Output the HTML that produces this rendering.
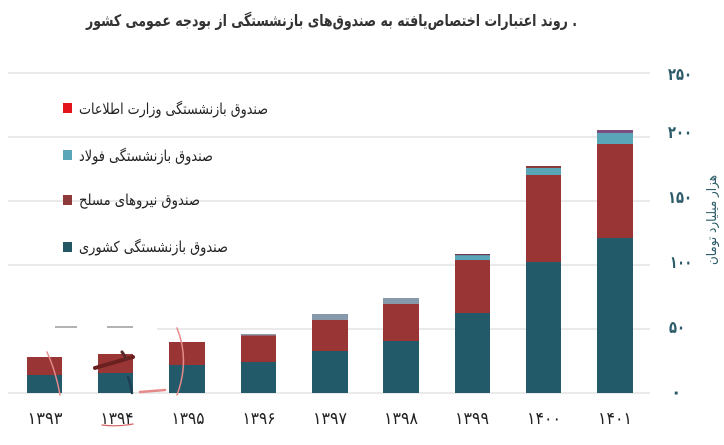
<!DOCTYPE html>
<html><head><meta charset="utf-8"><style>html,body{margin:0;padding:0;background:#fff;width:724px;height:445px;overflow:hidden}svg{display:block}</style></head><body>
<svg width="724" height="445" viewBox="0 0 724 445" xmlns="http://www.w3.org/2000/svg" font-family="'DejaVu Sans', sans-serif">
<rect width="724" height="445" fill="#fff"/>
<!-- gridlines -->
<g stroke="#e3e3e3" stroke-width="1.5">
<line x1="8" y1="73" x2="650" y2="73"/>
<line x1="8" y1="137" x2="650" y2="137"/>
<line x1="8" y1="201" x2="650" y2="201"/>
<line x1="8" y1="265" x2="650" y2="265"/>
<line x1="157" y1="329" x2="650" y2="329"/>
<line x1="8" y1="393" x2="650" y2="393"/>
</g>
<g stroke="#9a9a9a" stroke-width="1.5">
<line x1="55" y1="327" x2="77" y2="327"/>
<line x1="107" y1="327" x2="133" y2="327"/>
</g>
<!-- title -->
<text x="331.5" y="26" font-size="16" font-weight="bold" fill="#333" text-anchor="middle" style="direction:rtl;unicode-bidi:embed" textLength="491" lengthAdjust="spacingAndGlyphs">. روند اعتبارات اختصاص‌یافته به صندوق‌های بازنشستگی از بودجه عمومی کشور</text>
<!-- legend -->
<rect x="63" y="103" width="9" height="10" fill="#e3141b"/>
<text x="173.5" y="114" font-size="15" fill="#222" text-anchor="middle" style="direction:rtl;unicode-bidi:embed" textLength="189" lengthAdjust="spacingAndGlyphs">صندوق بازنشستگی وزارت اطلاعات</text>
<rect x="63" y="150" width="9" height="10" fill="#5aa6b9"/>
<text x="146" y="161" font-size="15" fill="#222" text-anchor="middle" style="direction:rtl;unicode-bidi:embed" textLength="134" lengthAdjust="spacingAndGlyphs">صندوق بازنشستگی فولاد</text>
<rect x="63" y="195" width="9" height="10" fill="#8e3a3a"/>
<text x="139.5" y="205" font-size="15" fill="#222" text-anchor="middle" style="direction:rtl;unicode-bidi:embed" textLength="121" lengthAdjust="spacingAndGlyphs">صندوق نیروهای مسلح</text>
<rect x="63" y="242" width="9" height="10" fill="#245764"/>
<text x="153.5" y="252" font-size="15" fill="#222" text-anchor="middle" style="direction:rtl;unicode-bidi:embed" textLength="149" lengthAdjust="spacingAndGlyphs">صندوق بازنشستگی کشوری</text>
<!-- bars -->
<g>
<rect x="27" y="375" width="35" height="18" fill="#235a69"/>
<rect x="27" y="357" width="35" height="18" fill="#9a3535"/>
<rect x="98" y="373" width="35" height="20" fill="#235a69"/>
<rect x="98" y="354" width="35" height="19" fill="#9a3535"/>
<rect x="169" y="365" width="36" height="28" fill="#235a69"/>
<rect x="169" y="342" width="36" height="23" fill="#9a3535"/>
<rect x="241" y="362" width="35" height="31" fill="#235a69"/>
<rect x="241" y="335" width="35" height="27" fill="#9a3535"/>
<rect x="241" y="334" width="35" height="1.5" fill="#8a9aaa"/>
<rect x="312" y="351" width="36" height="42" fill="#235a69"/>
<rect x="312" y="320" width="36" height="31" fill="#9a3535"/>
<rect x="312" y="314" width="36" height="6" fill="#8799aa"/>
<rect x="383" y="341" width="36" height="52" fill="#235a69"/>
<rect x="383" y="304" width="36" height="37" fill="#9a3535"/>
<rect x="383" y="298" width="36" height="6" fill="#8799aa"/>
<rect x="455" y="313" width="35" height="80" fill="#235a69"/>
<rect x="455" y="260" width="35" height="53" fill="#9a3535"/>
<rect x="455" y="255" width="35" height="5" fill="#5aa6b9"/>
<rect x="455" y="254" width="35" height="1.2" fill="#6b3a4a"/>
<rect x="526" y="262" width="35" height="131" fill="#235a69"/>
<rect x="526" y="175" width="35" height="87" fill="#9a3535"/>
<rect x="526" y="168" width="35" height="7" fill="#5aa6b9"/>
<rect x="526" y="166" width="35" height="2" fill="#8a3a3a"/>
<rect x="597" y="238" width="36" height="155" fill="#235a69"/>
<rect x="597" y="144" width="36" height="94" fill="#9a3535"/>
<rect x="597" y="133" width="36" height="11" fill="#5aa6b9"/>
<rect x="597" y="130" width="36" height="3" fill="#7a4f7f"/>
</g>
<!-- annotation marks -->
<g fill="none" stroke-linecap="round">
<path d="M47 352 Q56 372 60 395" stroke="#e58a8a" stroke-width="1.5"/>
<path d="M177 328 Q190 360 177 395" stroke="#e58a8a" stroke-width="1.5"/>
<path d="M95 368 Q115 362 133 357" stroke="#6b2020" stroke-width="4"/>
<path d="M122 352 L126 358" stroke="#5a2a2a" stroke-width="3"/>
<path d="M128 377 Q131 385 132 393" stroke="#1d3f55" stroke-width="2.5"/>
<path d="M140 392 L165 390" stroke="#e58a8a" stroke-width="2.5"/>
<path d="M102 425 Q117 427 133 424" stroke="#d06060" stroke-width="1.2"/>
</g>
<!-- x labels -->
<g font-size="17" fill="#222" text-anchor="middle">
<text x="45" y="424" textLength="35" lengthAdjust="spacingAndGlyphs">۱۳۹۳</text>
<text x="117" y="424" textLength="33" lengthAdjust="spacingAndGlyphs">۱۳۹۴</text>
<text x="188" y="424" textLength="33" lengthAdjust="spacingAndGlyphs">۱۳۹۵</text>
<text x="259" y="424" textLength="33" lengthAdjust="spacingAndGlyphs">۱۳۹۶</text>
<text x="330" y="424" textLength="34" lengthAdjust="spacingAndGlyphs">۱۳۹۷</text>
<text x="401" y="424" textLength="34" lengthAdjust="spacingAndGlyphs">۱۳۹۸</text>
<text x="472" y="424" textLength="34" lengthAdjust="spacingAndGlyphs">۱۳۹۹</text>
<text x="544" y="424" textLength="34" lengthAdjust="spacingAndGlyphs">۱۴۰۰</text>
<text x="615" y="424" textLength="34" lengthAdjust="spacingAndGlyphs">۱۴۰۱</text>
</g>
<!-- y labels -->
<g font-size="17" font-weight="bold" fill="#2b5a68">
<text x="668" y="80" textLength="24" lengthAdjust="spacingAndGlyphs">۲۵۰</text>
<text x="668" y="138" textLength="24" lengthAdjust="spacingAndGlyphs">۲۰۰</text>
<text x="668" y="203" textLength="24" lengthAdjust="spacingAndGlyphs">۱۵۰</text>
<text x="670" y="268" textLength="22" lengthAdjust="spacingAndGlyphs">۱۰۰</text>
<text x="669" y="333" textLength="16" lengthAdjust="spacingAndGlyphs">۵۰</text>
<text x="671" y="398">۰</text>
</g>
<!-- axis title -->
<text transform="translate(712,220) rotate(-90)" x="0" y="4" font-size="13" fill="#2b5a68" text-anchor="middle" style="direction:rtl;unicode-bidi:embed" textLength="90" lengthAdjust="spacingAndGlyphs">هزار میلیارد تومان</text>
</svg>
</body></html>
